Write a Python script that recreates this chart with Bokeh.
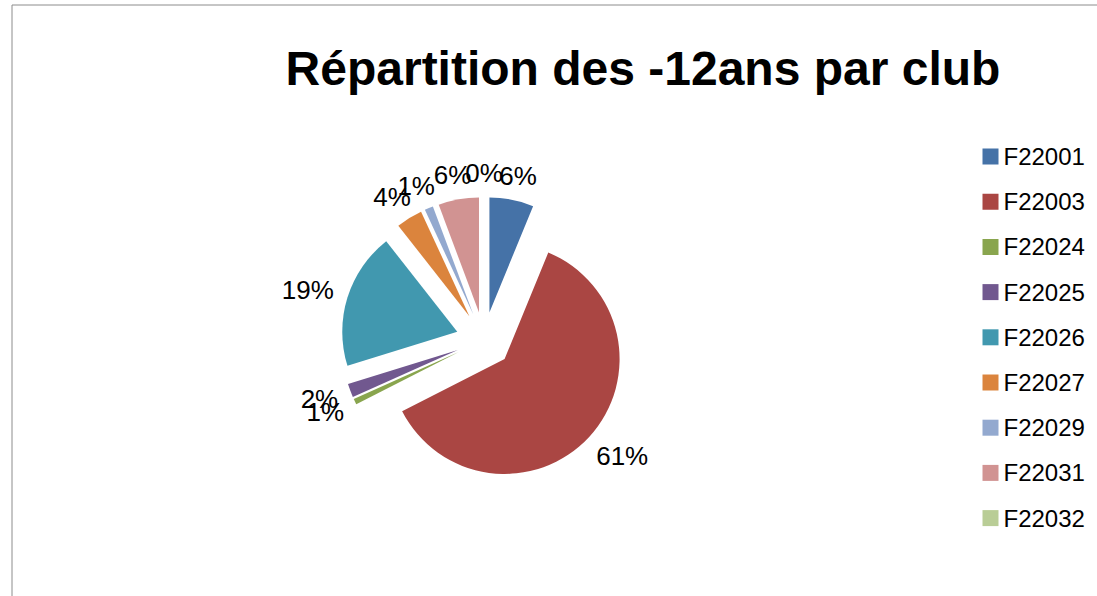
import math
from bokeh.plotting import figure
from bokeh.models import Range1d, ColumnDataSource
from bokeh.core.properties import value
from bokeh.embed import file_html
from bokeh.resources import INLINE

# ---- data ----
clubs = ["F22001", "F22003", "F22024", "F22025", "F22026", "F22027", "F22029", "F22031", "F22032"]
shares = [6.2, 61.3, 0.8, 1.9, 19.2, 3.7, 1.2, 5.7, 0.0]
colors = ["#4572A7", "#AA4643", "#89A54E", "#71588F", "#4198AF", "#DB843D", "#93A9CF", "#D19392", "#B9CD96"]
title_text = "Répartition des -12ans par club"

# ---- layout (pixel-like data coordinates, y up) ----
W, H = 1097, 596
CX, CY = 483.5, 256.5      # pie centre
R = 115                    # pie radius
D = 28                     # explosion distance
RB = 157                   # label base radius
LAB_FS = 26
LEG_FS = 24

p = figure(width=W, height=H, x_range=Range1d(0, W), y_range=Range1d(0, H),
           output_backend="svg", toolbar_location=None, min_border=0,
           x_axis_location=None, y_axis_location=None)
p.grid.visible = False
p.outline_line_color = None
p.background_fill_color = "white"
p.border_fill_color = "white"

total = sum(shares)
cum = 0.0
wx, wy, ws, we, wc = [], [], [], [], []
lx, ly, lt = [], [], []
for share, col in zip(shares, colors):
    t1 = cum / total * 2 * math.pi
    cum += share
    t2 = cum / total * 2 * math.pi
    m = (t1 + t2) / 2
    if share > 0:
        wx.append(CX + D * math.sin(m))
        wy.append(CY + D * math.cos(m))
        ws.append(math.pi / 2 - t2)
        we.append(math.pi / 2 - t1)
        wc.append(col)
    txt = f"{share:.0f}%"
    w = (0.556 * (len(txt) - 1) + 0.889) * LAB_FS
    h = 20
    rb = RB + 8 * (share / total)   # larger slices sit a little further out
    lx.append(CX + (rb + w / 2) * math.sin(m))
    ly.append(CY + (rb + h / 2) * math.cos(m))
    lt.append(txt)

p.wedge(x="x", y="y", radius=R, start_angle="s", end_angle="e", direction="anticlock",
        fill_color="c", line_color=None,
        source=ColumnDataSource(dict(x=wx, y=wy, s=ws, e=we, c=wc)))

p.text(x="x", y="y", text="t", source=ColumnDataSource(dict(x=lx, y=ly, t=lt)),
       text_font=value("Liberation Sans"), text_font_size=f"{LAB_FS}px",
       text_color="black", text_align="center", text_baseline="middle")

# title
p.text(x=[642.5], y=[528], text=[title_text], text_font=value("Liberation Sans"),
       text_font_size="48px", text_font_style="bold", text_color="black",
       text_align="center", text_baseline="middle")

# legend
ly0 = 440
step = 45.2
leg_y = [ly0 - i * step for i in range(len(clubs))]
p.rect(x=[990] * len(clubs), y=leg_y, width=16, height=16, fill_color=colors, line_color=None)
p.text(x=[1003] * len(clubs), y=leg_y, text=clubs, text_font=value("Liberation Sans"),
       text_font_size=f"{LEG_FS}px", text_color="black", text_align="left", text_baseline="middle")

# chart area border (top & left edges visible)
p.line(x=[11.5, 11.5, W], y=[0, 591.5, 591.5], line_color="#8C8C8C", line_width=1)

open("out.html", "w").write(file_html(p, INLINE))
